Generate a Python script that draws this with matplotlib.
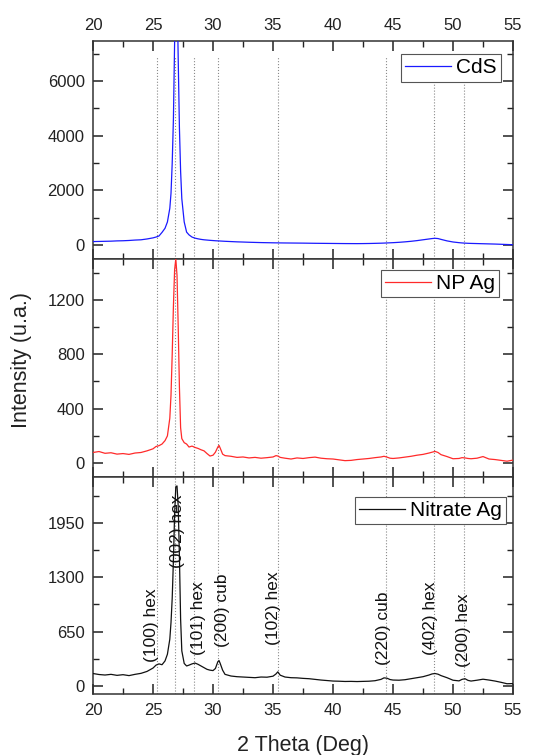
import matplotlib
matplotlib.use("Agg")
import matplotlib.pyplot as plt
from matplotlib.ticker import MultipleLocator

plt.rcParams['font.family'] = ['Liberation Sans', 'DejaVu Sans']

# 2 theta (deg), shared by the three patterns
two_theta = [20, 20.5, 21, 21.5, 22, 22.5, 23, 23.5, 24, 24.5,
             25, 25.25, 25.5, 25.75, 26, 26.2, 26.4, 26.5, 26.6, 26.7,
             26.8, 26.9, 27.0, 27.1, 27.2, 27.3, 27.4, 27.6, 27.8, 28,
             28.25, 28.5, 28.75, 29, 29.25, 29.5, 29.75, 30, 30.2, 30.4,
             30.5, 30.6, 30.8, 31, 31.5, 32, 32.5, 33, 33.5, 34,
             34.5, 35, 35.25, 35.4, 35.6, 36, 36.5, 37, 37.5, 38,
             38.5, 39, 39.5, 40, 40.5, 41, 41.5, 42, 42.5, 43,
             43.5, 44, 44.25, 44.5, 44.75, 45, 45.5, 46, 46.5, 47,
             47.5, 48, 48.25, 48.5, 48.75, 49, 49.5, 50, 50.5, 50.75,
             51, 51.25, 51.5, 52, 52.5, 53, 53.5, 54, 54.5, 55]

cds = [135, 140, 145, 150, 160, 165, 175, 190, 200, 230,
       270, 300, 340, 470, 620, 850, 1350, 1900, 3000, 4600,
       7400, 9800, 9500, 6800, 4300, 2700, 1700, 850, 480, 380,
       300, 260, 235, 215, 200, 190, 180, 172, 165, 160,
       158, 155, 150, 145, 135, 125, 118, 110, 104, 98,
       94, 90, 88, 88, 86, 84, 82, 80, 78, 75,
       72, 70, 68, 66, 64, 62, 61, 60, 62, 65,
       70, 76, 80, 85, 90, 95, 108, 125, 145, 170,
       200, 230, 245, 255, 245, 215, 160, 120, 95, 85,
       78, 72, 68, 62, 56, 50, 44, 36, 28, 20]

np_ag = [78, 85, 72, 76, 66, 70, 64, 74, 78, 90,
         105, 122, 128, 140, 165, 200, 330, 500, 800, 1150,
         1420, 1500, 1380, 1000, 560, 260, 180, 150, 140, 118,
         125, 115, 108, 98, 90, 70, 52, 58, 80, 118,
         130, 110, 66, 55, 50, 42, 45, 38, 42, 36,
         40, 45, 55, 52, 42, 36, 30, 38, 34, 40,
         44, 36, 32, 30, 24, 18, 20, 26, 30, 34,
         40, 45, 50, 44, 36, 34, 38, 44, 50, 58,
         64, 74, 80, 86, 78, 62, 48, 32, 34, 40,
         38, 34, 32, 36, 48, 30, 26, 20, 14, 22]

nitrate_ag = [150, 138, 132, 140, 128, 136, 125, 140, 152, 175,
              215, 250, 265, 255, 300, 380, 560, 760, 1050, 1500,
              2050, 2380, 2390, 2150, 1550, 800, 420, 270, 240, 250,
              265, 275, 260, 240, 220, 200, 190, 185, 210, 290,
              305, 270, 190, 140, 120, 112, 108, 104, 100, 108,
              106, 118, 145, 170, 130, 108, 100, 98, 92, 88,
              80, 72, 66, 60, 58, 55, 56, 54, 56, 58,
              64, 80, 98, 94, 78, 72, 70, 76, 88, 100,
              112, 132, 145, 150, 142, 125, 100, 70, 62, 80,
              88, 68, 60, 70, 82, 72, 60, 45, 28, 30]

# reference peaks and their labels
peak_pos = [25.35, 26.8, 28.45, 30.4, 35.4, 44.4, 48.4, 50.9]
label_pos = [24.85, 27.0, 28.75, 30.75, 35.0, 44.2, 48.1, 50.9]
label_base = [290, 1410, 370, 470, 490, 250, 370, 230]
peak_labels = ['(100) hex', '(002) hex', '(101) hex', '(200) cub',
               '(102) hex', '(220) cub', '(402) hex', '(200) hex']

series = [('CdS', cds, '#1a1aff', (-500, 7450), 2000, 1000, (0.971, 0.94)),
          ('NP Ag', np_ag, '#ff2a2a', (-100, 1500), 400, 200, (0.967, 0.95)),
          ('Nitrate Ag', nitrate_ag, '#111111', (-100, 2500), 650, 325, (0.983, 0.908))]

fig = plt.figure(figsize=(5.33, 7.55), dpi=100)
left, width, h = 0.1745, 0.788, 0.2884
bottoms = [0.657, 0.3686, 0.0802]
axes = []
for i, (name, vals, color, ylim, major, minor, anchor) in enumerate(series):
    ax = fig.add_axes([left, bottoms[i], width, h])
    axes.append(ax)
    ax.plot(two_theta, vals, color=color, lw=0.9, label=name, zorder=3)
    ax.set_xlim(20, 55)
    ax.xaxis.set_major_locator(MultipleLocator(5))
    ax.xaxis.set_minor_locator(MultipleLocator(2.5))
    ax.yaxis.set_major_locator(MultipleLocator(major))
    ax.yaxis.set_minor_locator(MultipleLocator(minor))
    ax.set_ylim(*ylim)
    ax.tick_params(which='both', direction='in', top=True, right=True,
                   labelsize=12, colors='#222222')
    ax.tick_params(which='major', length=7, width=1.1, pad=6)
    ax.tick_params(which='minor', length=4, width=1.0)
    ax.tick_params(axis='x', labelbottom=(i == 2), labeltop=(i == 0))
    for s in ax.spines.values():
        s.set_linewidth(1.1)
        s.set_color('#333333')
    # dotted reference lines
    for p in peak_pos:
        if i == 0:
            ax.vlines(p, ylim[0], 6900, colors='#8a8a8a', linestyles=':',
                      lw=0.8, zorder=2)
        else:
            ax.axvline(p, color='#8a8a8a', ls=':', lw=0.8, zorder=2)
    leg = ax.legend(loc='upper right', bbox_to_anchor=anchor, borderaxespad=0,
                    fontsize=15, fancybox=False, framealpha=1,
                    edgecolor='#555555', handlelength=2.2, handletextpad=0.25,
                    borderpad=0.2)
    leg.get_frame().set_linewidth(0.8)
    leg.set_zorder(5)

ax = axes[2]
for xp, yb, txt in zip(label_pos, label_base, peak_labels):
    ax.text(xp, yb, txt, rotation=90, ha='center', va='bottom',
            fontsize=12.5, color='#111111', zorder=4)

fig.text(0.568, 0.013, '2 Theta (Deg)', ha='center', va='center', fontsize=15.5,
         color='#222222')
fig.text(0.04, 0.523, 'Intensity (u.a.)', ha='center', va='center', rotation=90,
         fontsize=15.5, color='#222222')

fig.savefig('out.png', dpi=100)
